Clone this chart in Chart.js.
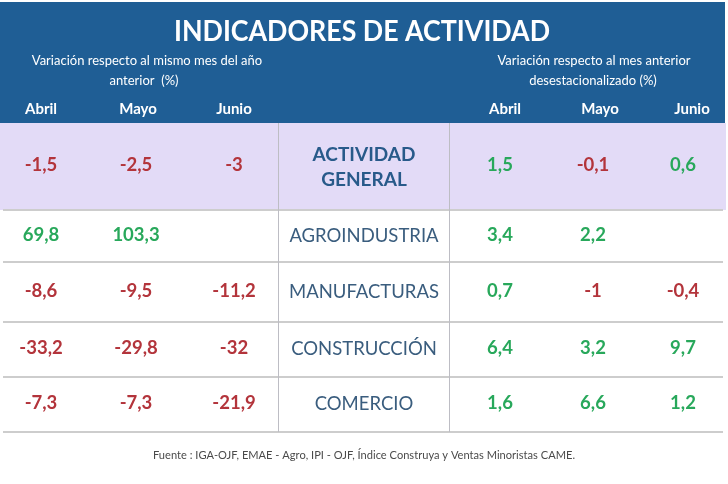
<!DOCTYPE html>
<html lang="es">
<head>
<meta charset="utf-8">
<title>Indicadores de actividad</title>
<script src="https://cdn.jsdelivr.net/npm/chart.js@4.4.1/dist/chart.umd.min.js"></script>
<style>
  html, body { margin: 0; padding: 0; background: #fff; }
  #wrap { width: 728px; height: 484px; position: relative; }
</style>
</head>
<body>
<div id="wrap"><canvas id="chart"></canvas></div>
<script>
const title = 'INDICADORES DE ACTIVIDAD'
const leftCaption = ['Variación respecto al mismo mes del año', 'anterior  (%)']
const rightCaption = ['Variación respecto al mes anterior', 'desestacionalizado (%)']
const months = ['Abril', 'Mayo', 'Junio']
const sectors = ['ACTIVIDAD GENERAL', 'AGROINDUSTRIA', 'MANUFACTURAS', 'CONSTRUCCIÓN', 'COMERCIO']
// variación interanual (%)
const interanual = [
  [-1.5, -2.5, -3],
  [69.8, 103.3, null],
  [-8.6, -9.5, -11.2],
  [-33.2, -29.8, -32],
  [-7.3, -7.3, -21.9]
]
// variación mensual desestacionalizada (%)
const mensual = [
  [1.5, -0.1, 0.6],
  [3.4, 2.2, null],
  [0.7, -1, -0.4],
  [6.4, 3.2, 9.7],
  [1.6, 6.6, 1.2]
]
const source = 'Fuente : IGA-OJF, EMAE - Agro, IPI - OJF, Índice Construya y Ventas Minoristas CAME.'

// Layout, in scale units (both scales run over the page size)
const COL_X = [41, 136, 234, 364, 500, 593, 683]
const HEAD_X = [41, 138, 234, 505, 600, 692]
const ROW_EDGES = [123, 210, 262, 322, 377, 432]
const rowMid = r => (ROW_EDGES[r] + ROW_EDGES[r + 1]) / 2

const BLUE = '#1F5E95'
const LAVENDER = '#E3DBF7'
const RED = '#B3343B'
const GREEN = '#28A85B'
const SECTOR = '#3A5D7E'
const SECTOR_BOLD = '#285A8A'
const FONT = 'Lato, "Open Sans", sans-serif'

const fmt = v => String(v).replace('.', ',')

function valuePoints(table, offset) {
  const pts = []
  table.forEach((row, r) => {
    row.forEach((v, c) => {
      if (v === null) return
      pts.push({ x: COL_X[offset + c], y: rowMid(r), label: fmt(v), color: v < 0 ? RED : GREEN })
    })
  })
  return pts
}

function text(ctx, str, x, y, font, color, maxW) {
  ctx.font = font
  ctx.fillStyle = color
  ctx.textAlign = 'center'
  ctx.textBaseline = 'middle'
  if (maxW) ctx.fillText(str, x, y, maxW)
  else ctx.fillText(str, x, y)
}

const tablePlugin = {
  id: 'table',
  beforeDatasetsDraw(chart) {
    const { ctx, scales: { x, y } } = chart
    ctx.save()
    // header band
    ctx.fillStyle = BLUE
    ctx.fillRect(x.getPixelForValue(0), y.getPixelForValue(2), x.getPixelForValue(725) - x.getPixelForValue(0), y.getPixelForValue(ROW_EDGES[0]) - y.getPixelForValue(2))
    // first row highlight
    ctx.fillStyle = LAVENDER
    ctx.fillRect(x.getPixelForValue(0), y.getPixelForValue(ROW_EDGES[0]), x.getPixelForValue(726) - x.getPixelForValue(0), y.getPixelForValue(ROW_EDGES[1]) - y.getPixelForValue(ROW_EDGES[0]))
    // row separators
    ctx.strokeStyle = '#CDCDCD'
    ctx.lineWidth = 2
    ROW_EDGES.slice(1).forEach(e => {
      const py = Math.round(y.getPixelForValue(e))
      ctx.beginPath()
      ctx.moveTo(x.getPixelForValue(3), py)
      ctx.lineTo(x.getPixelForValue(723), py)
      ctx.stroke()
    })
    // sector column borders
    ctx.strokeStyle = '#BDBDC4'
    ctx.lineWidth = 1
    ;[278.5, 449.5].forEach(vx => {
      ctx.beginPath()
      ctx.moveTo(x.getPixelForValue(vx), y.getPixelForValue(ROW_EDGES[0]))
      ctx.lineTo(x.getPixelForValue(vx), y.getPixelForValue(ROW_EDGES[ROW_EDGES.length - 1]))
      ctx.stroke()
    })
    // header texts
    text(ctx, title, x.getPixelForValue(362), y.getPixelForValue(32), 'bold 29px ' + FONT, '#FFFFFF', 376)
    text(ctx, leftCaption[0], x.getPixelForValue(147), y.getPixelForValue(61), '13px ' + FONT, '#FFFFFF', 238)
    text(ctx, leftCaption[1], x.getPixelForValue(144), y.getPixelForValue(81), '13px ' + FONT, '#FFFFFF')
    text(ctx, rightCaption[0], x.getPixelForValue(594), y.getPixelForValue(61), '13px ' + FONT, '#FFFFFF', 196)
    text(ctx, rightCaption[1], x.getPixelForValue(593), y.getPixelForValue(81), '13px ' + FONT, '#FFFFFF', 138)
    months.concat(months).forEach((m, i) => {
      text(ctx, m, x.getPixelForValue(HEAD_X[i]), y.getPixelForValue(109), 'bold 15px ' + FONT, '#FFFFFF')
    })
    // footer
    text(ctx, source, x.getPixelForValue(364), y.getPixelForValue(455), '11.5px ' + FONT, '#4A4A4A', 422)
    ctx.restore()
  },
  afterDatasetsDraw(chart) {
    const { ctx } = chart
    ctx.save()
    chart.data.datasets.forEach((ds, i) => {
      const meta = chart.getDatasetMeta(i)
      meta.data.forEach((el, j) => {
        const d = ds.data[j]
        if (ds.kind === 'sector') {
          if (j === 0) {
            const parts = d.label.split(' ')
            text(ctx, parts[0], el.x, el.y - 12, 'bold 19px ' + FONT, SECTOR_BOLD)
            text(ctx, parts[1], el.x, el.y + 13, 'bold 19px ' + FONT, SECTOR_BOLD)
          } else {
            text(ctx, d.label, el.x, el.y, '18.5px ' + FONT, SECTOR, 150)
          }
        } else {
          text(ctx, d.label, el.x, el.y - 1, 'bold 18.5px ' + FONT, d.color)
        }
      })
    })
    ctx.restore()
  }
}

new Chart(document.getElementById('chart'), {
  type: 'scatter',
  data: {
    datasets: [
      { kind: 'value', data: valuePoints(interanual, 0), pointRadius: 0 },
      { kind: 'sector', data: sectors.map((s, r) => ({ x: COL_X[3], y: rowMid(r), label: s })), pointRadius: 0 },
      { kind: 'value', data: valuePoints(mensual, 4), pointRadius: 0 }
    ]
  },
  options: {
    responsive: true,
    maintainAspectRatio: false,
    animation: false,
    layout: { padding: 0 },
    scales: {
      x: { type: 'linear', min: 0, max: 728, display: false },
      y: { type: 'linear', min: 0, max: 484, reverse: true, display: false }
    },
    plugins: {
      legend: { display: false },
      tooltip: { enabled: false }
    }
  },
  plugins: [tablePlugin]
})
</script>
</body>
</html>
